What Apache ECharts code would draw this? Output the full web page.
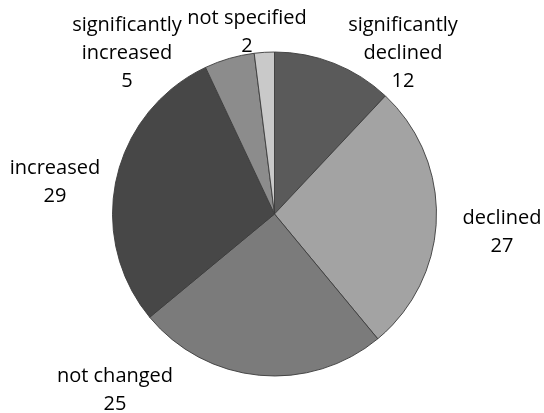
<!DOCTYPE html>
<html>
<head>
<meta charset="utf-8">
<script src="https://cdn.jsdelivr.net/npm/echarts@6/dist/echarts.min.js"></script>
<style>
html,body{margin:0;padding:0;background:#fff;}
#chart{width:544px;height:413px;}
</style>
</head>
<body>
<div id="chart"></div>
<script>
const categories = ["significantly declined", "declined", "not changed", "increased", "significantly increased", "not specified"];
const labelNames = ["significantly\ndeclined", "declined", "not changed", "increased", "significantly\nincreased", "not specified"];
const values = [12, 27, 25, 29, 5, 2];
const colors = ["#5a5a5a", "#a3a3a3", "#7b7b7b", "#474747", "#8c8c8c", "#c9c9c9"];
// label centre anchors (x, y of first line centre)
const labelAnchors = [[403, 25], [502, 218], [115, 376], [55, 168], [127, 25], [247, 18]];

const chart = echarts.init(document.getElementById('chart'), null, {renderer: 'canvas'});
const data = categories.map((c, i) => ({
  name: c,
  value: values[i],
  itemStyle: {color: colors[i]},
  label: {formatter: labelNames[i] + '\n' + values[i]}
}));
chart.setOption({
  animation: false,
  series: [{
    type: 'pie',
    center: [274.5, 214],
    radius: 162,
    startAngle: 90,
    clockwise: true,
    data: data,
    itemStyle: {borderColor: 'rgba(60,60,60,0.9)', borderWidth: 1},
    emphasis: {disabled: true},
    label: {
      show: true,
      position: 'outside',
      color: '#000',
      fontFamily: 'Open Sans',
      fontSize: 20,
      lineHeight: 28,
      align: 'center',
      verticalAlign: 'top',
      overflow: 'none'
    },
    labelLine: {show: false},
    labelLayout: function (p) {
      const a = labelAnchors[p.dataIndex];
      return {x: a[0], y: a[1] - 14, align: 'center', verticalAlign: 'top'};
    }
  }]
});
</script>
</body>
</html>
